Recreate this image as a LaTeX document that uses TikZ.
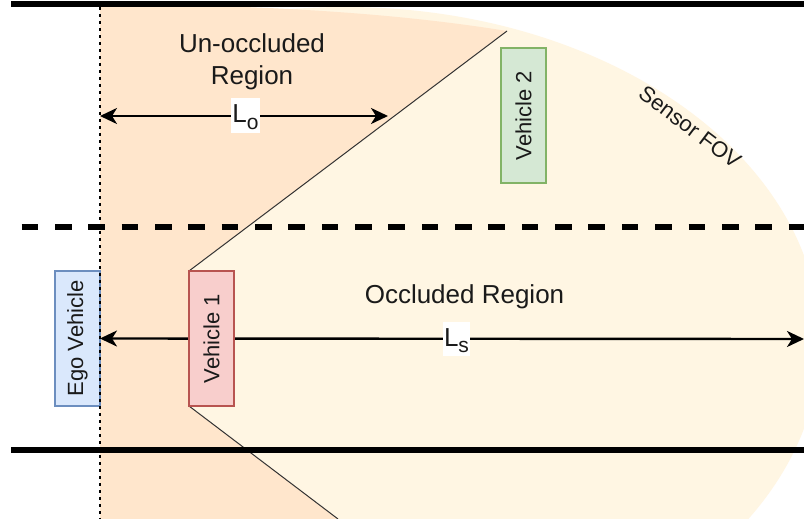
\documentclass[tikz,border=0pt]{standalone}
\usepackage{fontspec}
\setmainfont{Liberation Sans}
\usetikzlibrary{arrows.meta}
\definecolor{fovfill}{HTML}{FFF6E3}
\definecolor{clearfill}{HTML}{FFE6CC}
\definecolor{egofill}{HTML}{DAE8FC}
\definecolor{egodraw}{HTML}{6C8EBF}
\definecolor{onefill}{HTML}{F8CECC}
\definecolor{onedraw}{HTML}{B85450}
\definecolor{twofill}{HTML}{D5E8D4}
\definecolor{twodraw}{HTML}{82B366}
\definecolor{ink}{HTML}{1A1A1A}
\pgfdeclarelayer{background}
\pgfsetlayers{background,main}
\begin{document}
\begin{tikzpicture}[x=1pt,y=-1pt,
  road/.style={line width=6pt},
  lanemark/.style={line width=6pt, dash pattern=on 16.67pt off 16.67pt},
  egoline/.style={line width=2.8pt, dash pattern=on 2.6pt off 4.4pt},
  shadowline/.style={draw=black!80, line width=1pt},
  dimline/.style={line width=2.4pt,
    {Stealth[length=17pt,width=16pt,inset=5pt]}-{Stealth[length=17pt,width=16pt,inset=5pt]}},
  dimlabel/.style={fill=white, inner sep=1.5pt, text height=23pt, text depth=8.5pt, anchor=base,
    font=\fontsize{26}{30}\selectfont, text=ink},
  bigtxt/.style={font=\fontsize{26}{31.7}\selectfont, text=ink},
  car/.style={line width=2pt, minimum width=45pt, minimum height=135pt, inner sep=0pt, outer sep=0pt,
    font=\fontsize{22}{26}\selectfont, text=ink},
  fovtxt/.style={font=\fontsize{22}{26}\selectfont, text=ink}]

\useasboundingbox (0,0) rectangle (804,519);

% vehicles
\node[car, draw=egodraw, fill=egofill] (ego) at (77.5,338.5) {\rotatebox{90}{Ego Vehicle}};
\node[car, draw=onedraw, fill=onefill] (v1) at (211.5,338.5) {\rotatebox{90}{Vehicle 1}};
\node[car, draw=twodraw, fill=twofill] (v2) at (523.5,115.5) {\rotatebox{90}{Vehicle 2}};

% reference points
\coordinate (shadeTop) at (507,31);
\coordinate (shadeBot) at (338,519);
\coordinate (loL) at (100,116);
\coordinate (loR) at (388,116);
\coordinate (lsR) at (804,339);

\begin{pgfonlayer}{background}
  \fill[white] (0,0) rectangle (804,519);
  % sensor field of view
  \begin{scope}
    \clip (100,0) rectangle (804,519);
    \fill[fovfill] (345,342) ellipse [x radius=475, y radius=335];
  \end{scope}
  % un-occluded part of the field of view
  \fill[clearfill] (100,4) .. controls (300,5) and (420,17) .. (shadeTop)
    -- (v1.north west) -- (v1.south west) -- (shadeBot) -- (100,519) -- cycle;
  % occlusion boundaries cast by vehicle 1
  \draw[shadowline] (v1.north west) -- (shadeTop);
  \draw[shadowline] (v1.south west) -- (shadeBot);
  % road markings
  \draw[road] (11,3.8) -- (804,3.8);
  \draw[road] (11,450.3) -- (804,450.3);
  \draw[lanemark] (21.7,227) -- (804,227);
  % distances
  \draw[dimline] (loL) -- (loR);
  \draw[dimline] (ego.east) -- (lsR);
  \node[dimlabel] (lo) at (245.5,123) {L\raisebox{-0.25em}{\fontsize{21}{21}\selectfont o}};
  \node[dimlabel] (ls) at (456.5,346) {L\raisebox{-0.25em}{\fontsize{21}{21}\selectfont s}};
\end{pgfonlayer}

% ego reference line
\draw[egoline] (100,7) -- (100,519);

% region labels
\node[bigtxt, align=center] (unocc) at (252,62) {Un-occluded\\Region};
\node[bigtxt, anchor=base] (occ) at (464.5,303) {Occluded Region};
\node[fovtxt, rotate=-37] (fov) at (690,127) {Sensor FOV};

\end{tikzpicture}
\end{document}
